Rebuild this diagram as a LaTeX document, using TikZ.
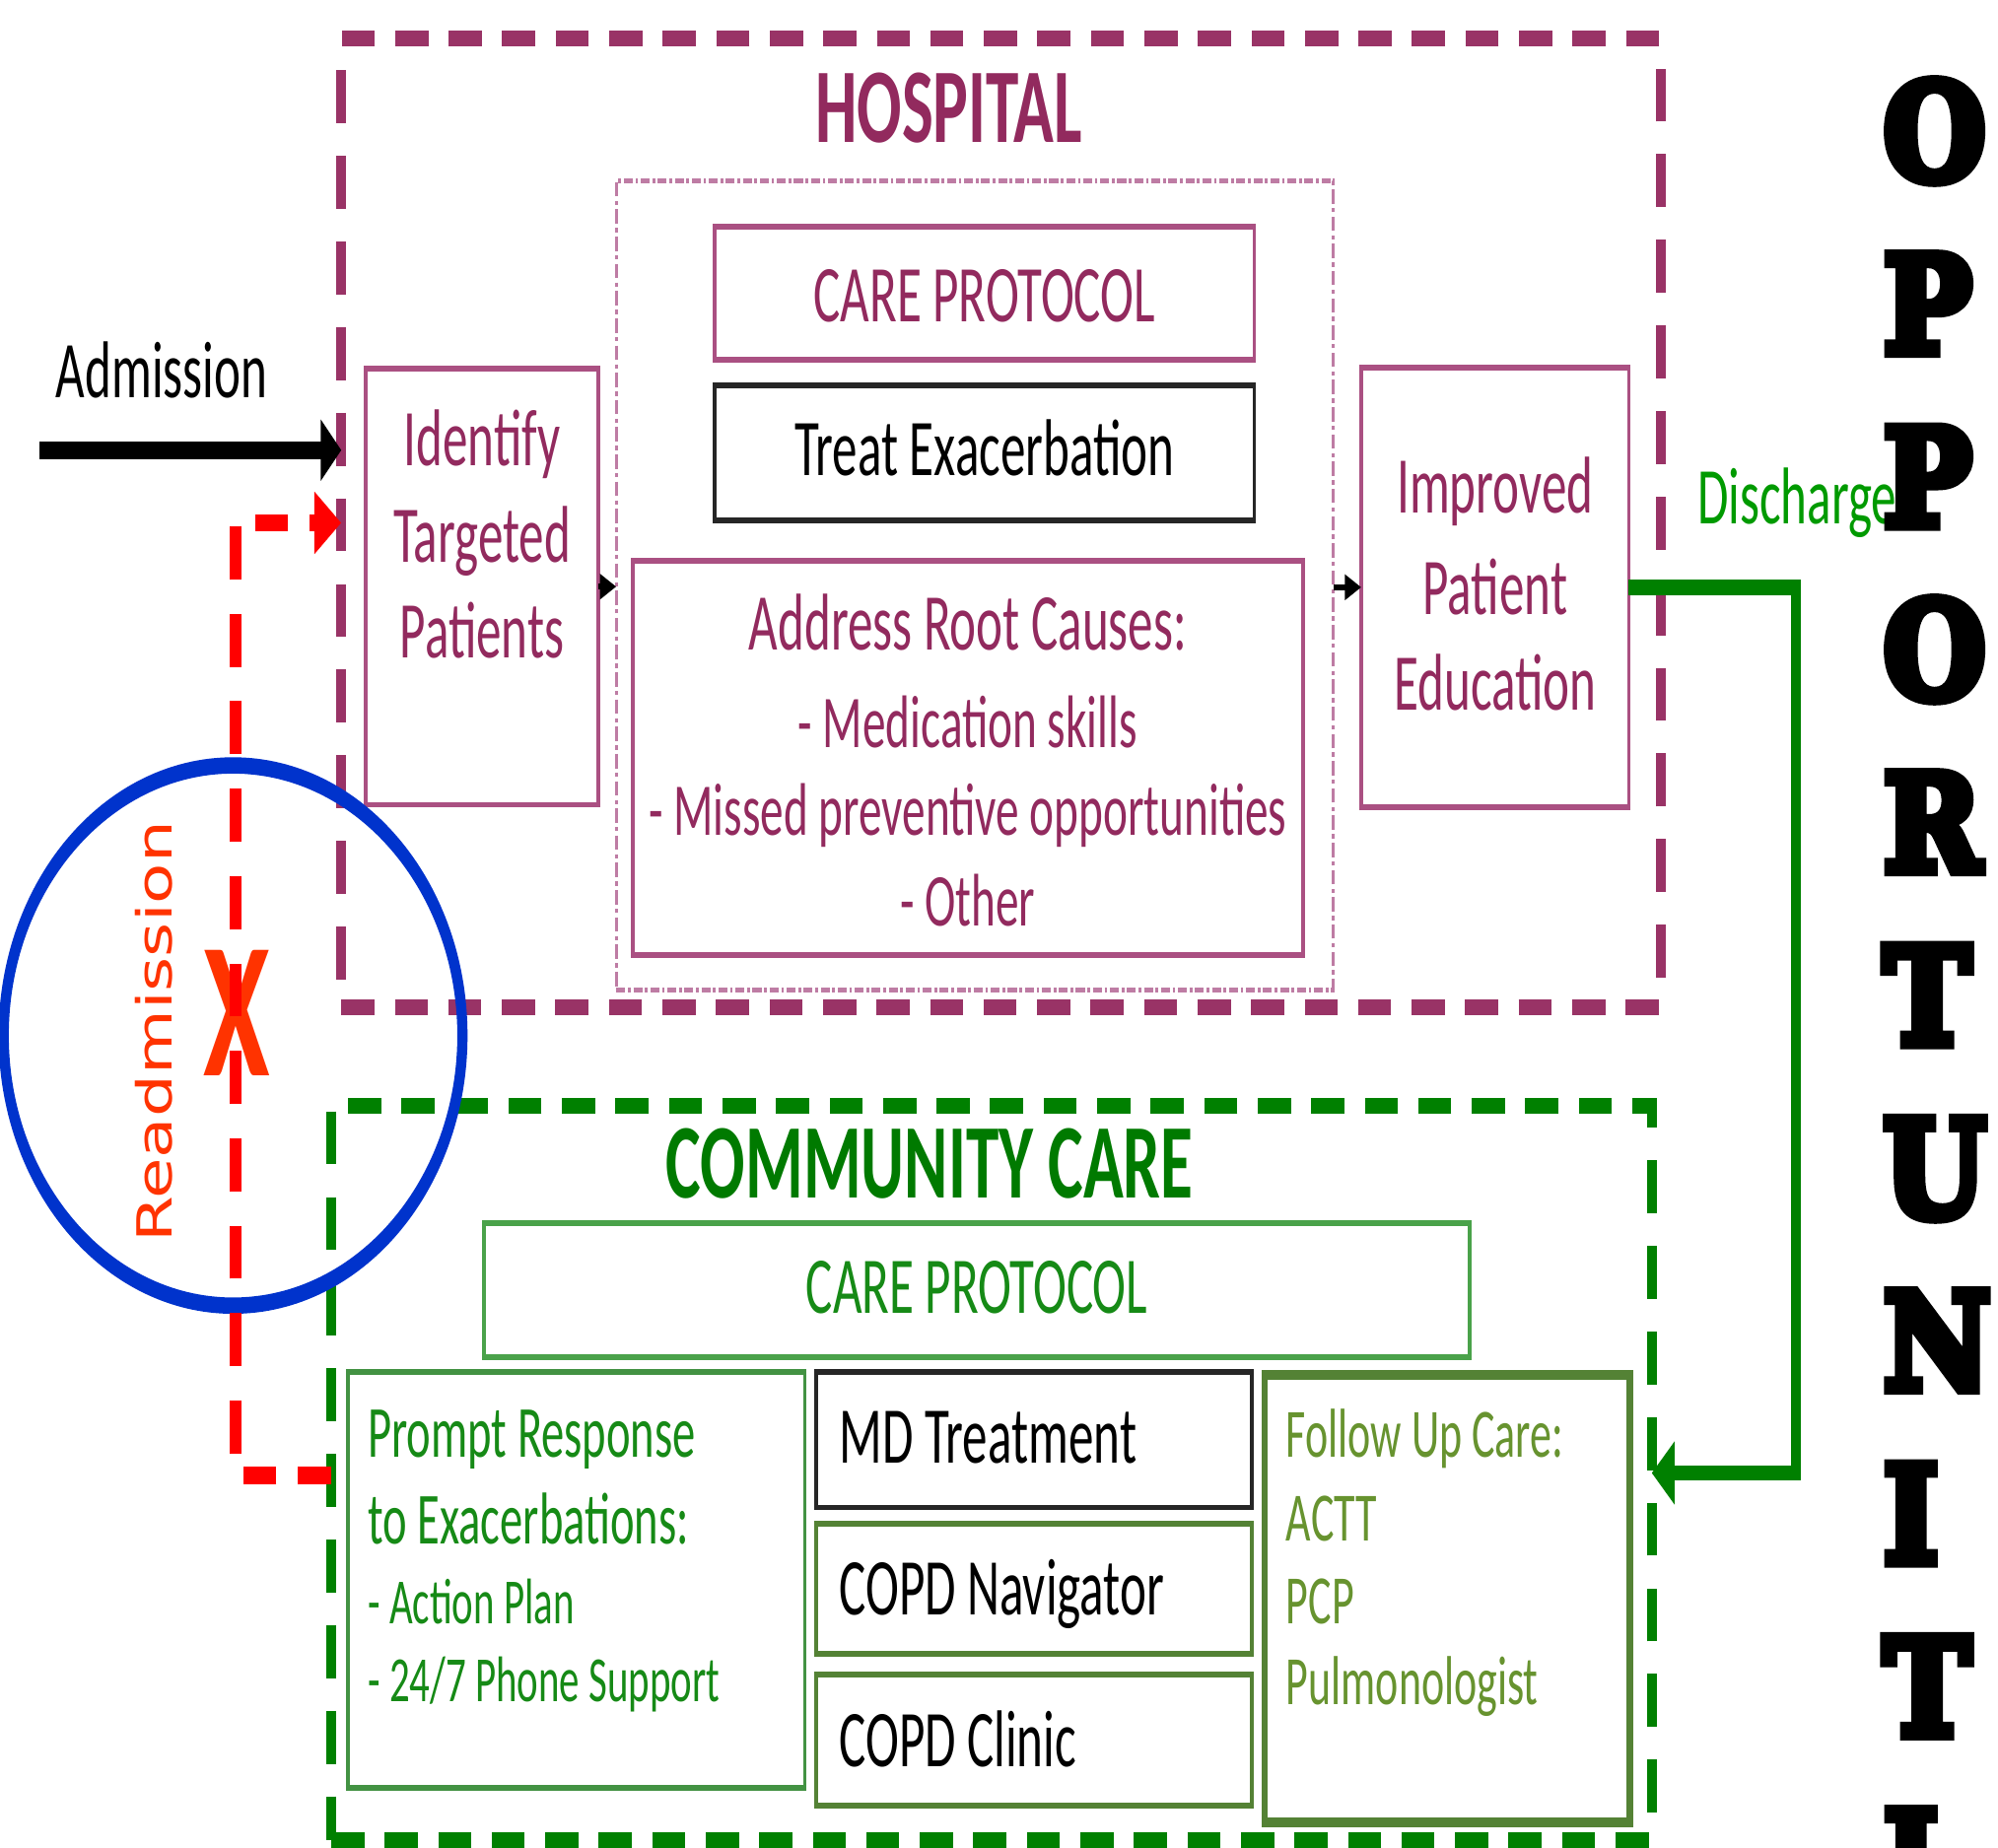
\documentclass[tikz,border=0pt]{standalone}
\usepackage{fontspec}
\setmainfont{Carlito}
\newfontfamily\rmsansfont{DejaVu Sans}
\newfontfamily\opfont[BoldFeatures={FakeBold=8}]{DejaVu Serif}
\usetikzlibrary{fit,arrows.meta}

\definecolor{hospdash}{HTML}{993366}
\definecolor{hosptext}{HTML}{922A5E}
\definecolor{hospbox}{HTML}{AA5082}
\definecolor{hospdot}{HTML}{BE7CA4}
\definecolor{commdash}{HTML}{008000}
\definecolor{commtext}{HTML}{007A00}
\definecolor{cpbox}{HTML}{4AA24A}
\definecolor{cptext}{HTML}{168A16}
\definecolor{olivebox}{HTML}{548235}
\definecolor{olivetext}{HTML}{67932F}
\definecolor{dischg}{HTML}{009A00}
\definecolor{readm}{HTML}{FF3300}
\definecolor{blueell}{HTML}{0033CC}

\newcommand\fTitle{\fontsize{14.8pt}{17pt}\selectfont\bfseries}
\newcommand\fMain{\fontsize{11.24pt}{13.4pt}\selectfont}
\newcommand\fRoot{\fontsize{10.4pt}{12.4pt}\selectfont}
\newcommand\fSmall{\fontsize{9.67pt}{11.5pt}\selectfont}
\newcommand\fPromptA{\fontsize{10.25pt}{12pt}\selectfont}
\newcommand\fPromptB{\fontsize{9pt}{11pt}\selectfont}
\newcommand\fOpp{\opfont\bfseries\fontsize{18.7pt}{20pt}\selectfont}

\tikzset{
  bigdash/.style={line width=2.13pt, dash pattern=on 7.4pt off 4.55pt, inner sep=0pt, outer sep=0pt},
  hospframe/.style={bigdash, draw=hospdash},
  commframe/.style={bigdash, draw=commdash},
  dotframe/.style={draw=hospdot, line width=0.7pt, dash pattern=on 2pt off 0.6pt on 0.6pt off 0.6pt, inner sep=0pt, outer sep=0pt},
  pbox/.style={draw=hospbox, line width=0.8pt, inner sep=0pt, outer sep=0pt},
  kbox/.style={draw=black!85, line width=0.8pt, inner sep=0pt, outer sep=0pt},
  gbox/.style={draw=cpbox, line width=0.8pt, inner sep=0pt, outer sep=0pt},
  obox/.style={draw=olivebox, line width=0.8pt, inner sep=0pt, outer sep=0pt},
  fubox/.style={draw=olivebox, line width=1.45pt, inner sep=0pt, outer sep=0pt},
  txt/.style={inner sep=0pt, outer sep=0pt},
  htxt/.style={txt, anchor=base, font=\fMain, text=hosptext},
  admarrow/.style={line width=2.45pt, -{Triangle[length=4.6pt,width=8.3pt]}},
  smallarrow/.style={line width=0.8pt, -{Triangle[length=3.7pt,width=3.4pt]}},
  reddash/.style={draw=red, line width=2.47pt, dash pattern=on 7.4pt off 4.8pt, -{Triangle[length=6pt,width=8.3pt]}},
  greenarrow/.style={draw=commdash, line width=2.16pt, -{Triangle[length=5.1pt,width=8.5pt]}}
}

\begin{document}
\begin{tikzpicture}
\path[use as bounding box, fill=white] (0,0) rectangle (15.68,-14.5);
\clip (0,0) rectangle (15.68,-14.5);
\begin{scope}[x=0.01cm, y=-0.00625cm, transform canvas={yscale=1.6}]

% ---------------- HOSPITAL ----------------
\node[hospframe, fit={(268,30) (1304,790)}] (hosp) {};
\node[dotframe, fit={(484,142) (1047,776)}] (inner) {};
\node[pbox, fit={(561,178) (985,282)}] (hcp) {};
\node[kbox, fit={(561,302) (985,408)}] (treat) {};
\node[pbox, fit={(497,440) (1023,749)}] (root) {};
\node[pbox, fit={(287,289) (470,631)}] (ident) {};
\node[pbox, fit={(1069,288) (1279,633)}] (imp) {};

\node[txt, anchor=base, font=\fTitle, text=hosptext] (hosptitle) at (745,112) {HOSPITAL};
\node[htxt] (hcpt) at (773,252) {CARE PROTOCOL};
\node[htxt, text=black] (treatt) at (773,373) {Treat Exacerbation};
\node[htxt] (root1) at (760,510) {Address Root Causes:};
\node[htxt, font=\fRoot] (root2) at (760,586) {- Medication skills};
\node[htxt, font=\fRoot] (root3) at (760,655) {- Missed preventive opportunities};
\node[htxt, font=\fRoot] (root4) at (760,726) {- Other};
\node[htxt] (ident1) at (378.5,365) {Identify};
\node[htxt] (ident2) at (378.5,441) {Targeted};
\node[htxt] (ident3) at (378.5,516) {Patients};
\node[htxt] (imp1) at (1174,402) {Improved};
\node[htxt] (imp2) at (1174,482) {Patient};
\node[htxt] (imp3) at (1174,557) {Education};

% ---------------- COMMUNITY ----------------
\node[commframe, fit={(260,867) (1297,1443)}] (comm) {};
\node[gbox, fit={(380,959) (1154,1064)}] (ccp) {};
\node[gbox, draw=cpbox!90!black, fit={(273,1076) (632,1402)}] (prompt) {};
\node[kbox, fit={(641,1076) (983,1182)}] (md) {};
\node[obox, fit={(641,1195) (983,1297)}] (nav) {};
\node[obox, fit={(641,1313) (983,1416)}] (clinic) {};
\node[fubox, fit={(993,1078) (1280,1429)}] (fu) {};

\node[txt, anchor=base, font=\fTitle, text=commtext] (commtitle) at (730,939) {COMMUNITY CARE};
\node[txt, anchor=base, font=\fMain, text=cptext] (ccpt) at (767,1030) {CARE PROTOCOL};
\node[txt, anchor=base west, font=\fPromptA, text=cptext] (pr1) at (289,1143) {Prompt Response};
\node[txt, anchor=base west, font=\fPromptA, text=cptext] (pr2) at (289,1211) {to Exacerbations:};
\node[txt, anchor=base west, font=\fPromptB, text=cptext] (pr3) at (289,1273) {- Action Plan};
\node[txt, anchor=base west, font=\fPromptB, text=cptext] (pr4) at (289,1334) {- 24/7 Phone Support};
\node[txt, anchor=base west, font=\fMain] (mdt) at (659,1147) {MD Treatment};
\node[txt, anchor=base west, font=\fMain] (navt) at (659,1266) {COPD Navigator};
\node[txt, anchor=base west, font=\fMain] (clinict) at (659,1385) {COPD Clinic};
\node[txt, anchor=base west, font=\fSmall, text=olivetext] (fu1) at (1010,1143) {Follow Up Care:};
\node[txt, anchor=base west, font=\fSmall, text=olivetext] (fu2) at (1010,1208) {ACTT};
\node[txt, anchor=base west, font=\fSmall, text=olivetext] (fu3) at (1010,1273) {PCP};
\node[txt, anchor=base west, font=\fSmall, text=olivetext] (fu4) at (1010,1337) {Pulmonologist};

% ---------------- READMISSION ----------------
\draw[blueell, line width=2.28pt] (183,812) ellipse [x radius=1.8cm, y radius=1.325cm];
\node[txt, rotate=90, anchor=base, text=readm, font=\rmsansfont\fontsize{10.8pt}{12pt}\selectfont] (readmt) at (135,809) {\scalebox{0.86}[1]{Readmission}};
\node[txt, text=readm, font=\bfseries\fontsize{27pt}{30pt}\selectfont] (xmark) at (186,794) {X};
\coordinate (rb) at (185,1157);
\coordinate (rt) at (185,410);
\draw[reddash] (comm.west |- rb) -- (rb) -- (rt) -- (rt -| hosp.west);

% ---------------- CONNECTORS ----------------
\coordinate (admstart) at (31,353);
\node[txt, anchor=base west, font=\fMain] (admt) at (44,312) {Admission};
\draw[admarrow] (admstart) -- (admstart -| hosp.west);
\draw[smallarrow] (ident.east) -- (ident.east -| inner.west);
\draw[smallarrow] (inner.east |- imp.west) -- (imp.west);
\coordinate (gcorner) at (1410,1155);
\draw[greenarrow] (imp.east) -| (gcorner) -- (comm.east |- gcorner);
\node[txt, anchor=base west, font=\fMain, text=dischg] (dischargt) at (1333,411) {Discharge};

% ---------------- OPPORTUNITIES ----------------
\foreach \L [count=\k from 0] in {O,P,P,O,R,T,U,N,I,T,I}
  \node[txt, anchor=base west, font=\fOpp] (opp\k) at (1479,141+135.5*\k) {\scalebox{1.4}[1]{\L}};

\end{scope}
\end{tikzpicture}
\end{document}
